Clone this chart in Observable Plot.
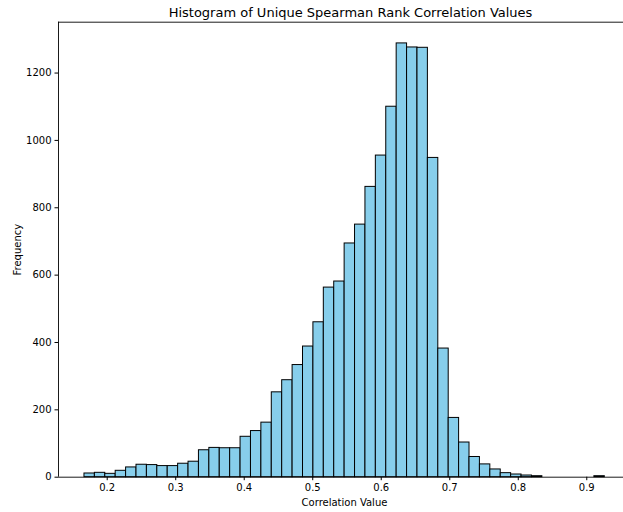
<!DOCTYPE html>
<html>
<head>
<meta charset="utf-8">
<script src="https://cdn.jsdelivr.net/npm/d3@7"></script>
<script src="https://cdn.jsdelivr.net/npm/@observablehq/plot@0.6"></script>
<style>
  body { margin: 0; background: #fff; }
  svg { font-family: "DejaVu Sans", sans-serif; }
</style>
</head>
<body>
<div id="chart"></div>
<script>
const title = "Histogram of Unique Spearman Rank Correlation Values";
const xLabel = "Correlation Value";
const yLabel = "Frequency";

// histogram bins: first bin start and width
const binStart = 0.1668;
const binWidth = 0.01519;
// counts per bin (50 bins)
const counts = [
  11, 13, 10, 19, 29, 37, 36, 33, 33, 40,
  46, 80, 87, 86, 86, 120, 137, 162, 252, 288,
  333, 388, 460, 563, 581, 694, 750, 862, 955, 1100,
  1288, 1276, 1275, 948, 382, 176, 103, 60, 38, 23,
  12, 8, 5, 3, 0, 0, 0, 0, 0, 3
];
const xTicks = [0.2, 0.3, 0.4, 0.5, 0.6, 0.7, 0.8, 0.9];
const yTicks = [0, 200, 400, 600, 800, 1000, 1200];

const xDomain = [0.1289, 0.9536];
const yDomain = [0, 1351];

const bins = counts.map((c, i) => ({
  x1: binStart + i * binWidth,
  x2: binStart + (i + 1) * binWidth,
  count: c
}));

const chart = Plot.plot({
  width: 623,
  height: 512,
  marginLeft: 58,
  marginRight: 0,
  marginTop: 21.7,
  marginBottom: 35.3,
  style: { fontFamily: "DejaVu Sans, sans-serif", fontSize: "10px", color: "#000", background: "#fff", overflow: "visible" },
  x: { domain: xDomain, ticks: xTicks, tickFormat: d3.format(".1f"), tickSize: 3.5, tickPadding: 3.5, label: null },
  y: { domain: yDomain, ticks: yTicks, tickFormat: d => String(d), tickSize: 3.5, tickPadding: 3.5, label: null },
  marks: [
    Plot.rectY(bins.filter(d => d.count > 0), {x1: "x1", x2: "x2", y: "count", fill: "#87CEEB", stroke: "#000", strokeWidth: 1, insetLeft: 0, insetRight: 0}),
    Plot.ruleY([0], {stroke: "#000", strokeWidth: 0.9}),
    Plot.ruleY([yDomain[1]], {stroke: "#000", strokeWidth: 0.9}),
    Plot.ruleX([xDomain[0]], {stroke: "#000", strokeWidth: 0.9}),
    Plot.text([title], {frameAnchor: "top-left", dx: 292, dy: -14, text: d => d, textAnchor: "middle", fontSize: 13, fill: "#000"}),
    Plot.text([xLabel], {frameAnchor: "bottom-left", dx: 286, dy: 29, text: d => d, textAnchor: "middle", fontSize: 10, fill: "#000"}),
    Plot.text([yLabel], {frameAnchor: "left", dx: -41, dy: 0, rotate: -90, text: d => d, textAnchor: "middle", fontSize: 10, fill: "#000"})
  ]
});
document.getElementById("chart").appendChild(chart);
</script>
</body>
</html>
